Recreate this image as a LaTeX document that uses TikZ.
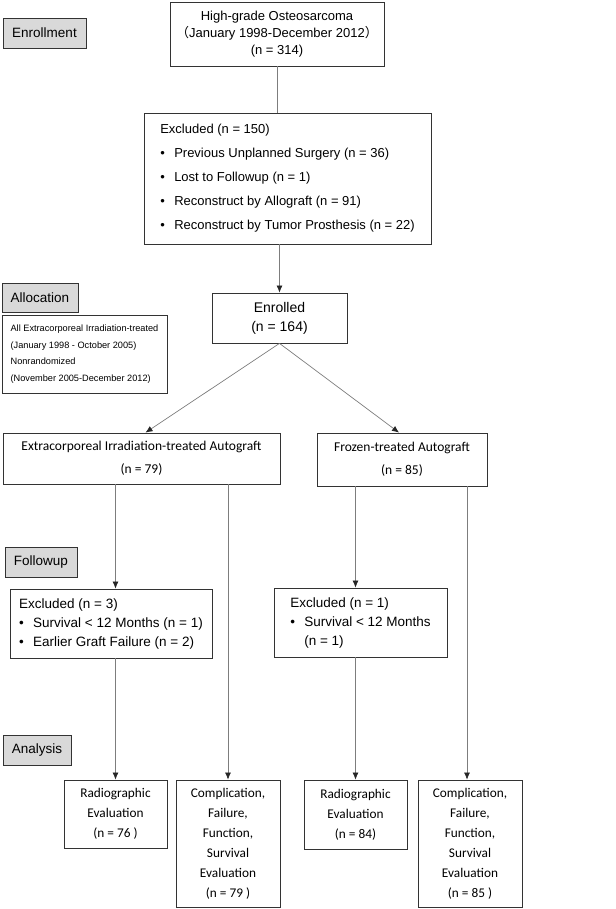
\documentclass[tikz,border=0pt]{standalone}
\usepackage{fontspec}
\setmainfont{Liberation Sans}
\newfontfamily\calfont{Carlito}
\newfontfamily\cjk{Noto Sans CJK SC}
\usetikzlibrary{arrows.meta}
\definecolor{phasegray}{RGB}{217,217,217}
\definecolor{linkgray}{RGB}{125,125,125}
\newcommand{\itembul}{\makebox[14pt][l]{\textbullet}}
\begin{document}
\begin{tikzpicture}[x=1pt, y=-1pt,
  box/.style={draw=black!80, line width=0.8pt, inner sep=0pt, align=center},
  phase/.style={box, fill=phasegray, minimum height=30, font=\fontsize{13.5}{16}\selectfont},
  link/.style={draw=linkgray, line width=0.7pt},
  >={Latex[length=7pt,width=6pt,color=black!85]}]

\useasboundingbox (0,0) rectangle (615,909);

% phase labels on the left
\node[phase, minimum width=83] (enrl) at (44.5,33) {Enrollment};
\node[phase, minimum width=76, minimum height=29] (alloc) at (40,297.5) {Allocation};
\node[phase, minimum width=72] (follow) at (41,562) {Followup};
\node[phase, minimum width=68] (anal) at (37,750) {Analysis};

\node[box, minimum width=165, minimum height=78, align=left,
  font=\fontsize{9.2}{16.5}\selectfont] (allocnote) at (84.5,354)
  {All Extracorporeal Irradiation-treated\\(January 1998 - October 2005)\\Nonrandomized\\(November 2005-December 2012)};

% enrollment
\node[box, minimum width=214, minimum height=64, font=\fontsize{13}{17}\selectfont] (start) at (277,34)
  {High-grade Osteosarcoma\\{\cjk （}January 1998-December 2012{\cjk ）}\\(n = 314)};
\node[box, minimum width=287, minimum height=131, align=left, font=\fontsize{13}{15}\selectfont] (excl) at (287.5,178.5)
  {Excluded (n = 150)\\[9pt]
   \itembul Previous Unplanned Surgery (n = 36)\\[9pt]
   \itembul Lost to Followup (n = 1)\\[9pt]
   \itembul Reconstruct by Allograft (n = 91)\\[9pt]
   \itembul Reconstruct by Tumor Prosthesis (n = 22)};
\node[box, minimum width=135, minimum height=50, font=\fontsize{14}{19}\selectfont] (enrolled) at (279.5,318)
  {Enrolled\\(n = 164)};

% allocation
\node[box, minimum width=277, minimum height=51, font=\calfont\fontsize{13.5}{23}\selectfont] (irr) at (141.5,458.5)
  {Extracorporeal Irradiation-treated Autograft\\(n = 79)};
\node[box, minimum width=170, minimum height=53, font=\calfont\fontsize{13.5}{23}\selectfont] (frz) at (402,459.5)
  {Frozen-treated Autograft\\(n = 85)};

% followup
\node[box, minimum width=202, minimum height=69, align=left, font=\fontsize{13.5}{19}\selectfont] (exirr) at (111,623.5)
  {Excluded (n = 3)\\\itembul Survival < 12 Months (n = 1)\\\itembul Earlier Graft Failure (n = 2)};
\node[box, minimum width=173, minimum height=69, align=left, font=\fontsize{13.5}{19}\selectfont] (exfrz) at (360.5,622.5)
  {Excluded (n = 1)\\\itembul Survival < 12 Months\\\makebox[14pt]{}(n = 1)};

% analysis
\node[box, minimum width=103, minimum height=68, font=\calfont\fontsize{13.3}{20}\selectfont] (radirr) at (115.5,814)
  {Radiographic\\Evaluation\\(n = 76 )};
\node[box, minimum width=104, minimum height=127, font=\calfont\fontsize{13.3}{20}\selectfont] (evalirr) at (228,843.5)
  {Complication,\\Failure,\\Function,\\Survival\\Evaluation\\(n = 79 )};
\node[box, minimum width=103, minimum height=69, font=\calfont\fontsize{13.3}{20}\selectfont] (radfrz) at (355.5,814.5)
  {Radiographic\\Evaluation\\(n = 84)};
\node[box, minimum width=104, minimum height=127, font=\calfont\fontsize{13.3}{20}\selectfont] (evalfrz) at (470,843.5)
  {Complication,\\Failure,\\Function,\\Survival\\Evaluation\\(n = 85 )};

% connectors
\draw[link] (start.south) -- (start.south |- excl.north);
\draw[link, ->] (enrolled.north |- excl.south) -- (enrolled.north);
\draw[link, ->] (enrolled.south) -- ([xshift=4pt]irr.north);
\draw[link, ->] (enrolled.south) -- ([xshift=-3pt]frz.north);

\draw[link, ->] (radirr.north |- irr.south) -- (radirr.north |- exirr.north);
\draw[link, ->] (radirr.north |- exirr.south) -- (radirr.north);
\draw[link, ->] (evalirr.north |- irr.south) -- (evalirr.north);

\draw[link, ->] (radfrz.north |- frz.south) -- (radfrz.north |- exfrz.north);
\draw[link, ->] (radfrz.north |- exfrz.south) -- (radfrz.north);
\draw[link, ->] ([xshift=-3pt]evalfrz.north |- frz.south) -- ([xshift=-3pt]evalfrz.north);
\end{tikzpicture}
\end{document}
